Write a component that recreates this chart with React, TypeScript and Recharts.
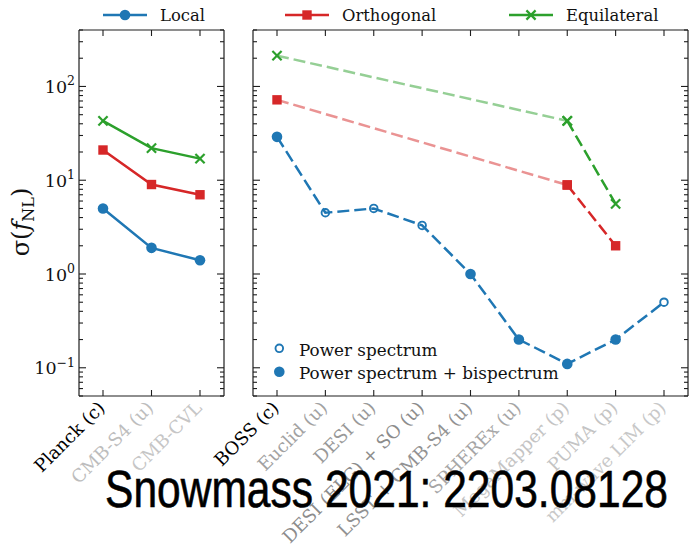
import React from 'react';
import { LineChart, Line, XAxis, YAxis, Legend } from 'recharts';

// ---- data ----
const cmbSurveys = ['Planck (c)', 'CMB-S4 (u)', 'CMB-CVL'];
const cmbLocal = [5.0, 1.9, 1.4];
const cmbOrthogonal = [21, 9.0, 7.0];
const cmbEquilateral = [43, 22, 17];

const lssSurveys = [
  'BOSS (c)',
  'Euclid (u)',
  'DESI (u)',
  'DESI (ELG) + SO (u)',
  'LSST + CMB-S4 (u)',
  'SPHEREx (u)',
  'MegaMapper (p)',
  'PUMA (p)',
  'mm-wave LIM (p)',
];
const lssLocal = [29, 4.5, 5.0, 3.3, 1.0, 0.2, 0.11, 0.2, 0.5];
// true where the forecast uses the power spectrum alone
const lssPowerOnly = [false, true, true, true, false, false, false, false, true];
const lssOrthogonal = [72, null, null, null, null, null, 8.9, 2.0, null];
const lssEquilateral = [213, null, null, null, null, null, 43, 5.6, null];

const yMajorTicks = [0.1, 1, 10, 100];
const yMajorExponents = ['\u22121', '0', '1', '2'];
const yMinorTicks = [
  0.05, 0.06, 0.07, 0.08, 0.09,
  0.2, 0.3, 0.4, 0.5, 0.6, 0.7, 0.8, 0.9,
  2, 3, 4, 5, 6, 7, 8, 9,
  20, 30, 40, 50, 60, 70, 80, 90,
  200, 300, 400,
];
const yDomain = [0.05, 400];

const shapeNames = ['Local', 'Orthogonal', 'Equilateral'];
const estimatorNames = ['Power spectrum', 'Power spectrum + bispectrum'];
const watermark = 'Snowmass 2021: 2203.08128';

// ---- styles ----
const BLUE = '#1f77b4';
const RED = '#d62728';
const GREEN = '#2ca02c';
const FRAME = '#1e1e1e';
const SERIF = '"DejaVu Serif", serif';
const SANS = '"Liberation Sans", Arial, sans-serif';
const DASH = '12 5';
const cmbLabelShade = ['#000000', '#bdbdbd', '#c6c6c6'];
const lssLabelShade = ['#000000', '#a2a2a2', '#999999', '#8c8c8c', '#929292', '#a6a6a6', '#c4c4c4', '#c4c4c4', '#c8c8c8'];

const W = 689;
const H = 558;
const PLOT_TOP = 30;
const PLOT_BOTTOM = 396;

// ---- rows ----
const cmbRows = cmbSurveys.map((name, i) => ({
  name,
  local: cmbLocal[i],
  ortho: cmbOrthogonal[i],
  equil: cmbEquilateral[i],
}));

const proposedStart = lssSurveys.indexOf('MegaMapper (p)');
const lssRows = lssSurveys.map((name, i) => ({
  name,
  local: lssLocal[i],
  powerOnly: lssPowerOnly[i],
  orthoFaded: i <= proposedStart ? lssOrthogonal[i] : null,
  orthoSolid: i >= proposedStart ? lssOrthogonal[i] : null,
  equilFaded: i <= proposedStart ? lssEquilateral[i] : null,
  equilSolid: i >= proposedStart ? lssEquilateral[i] : null,
}));

// ---- markers ----
type Kind = 'circle' | 'open' | 'square' | 'cross';

function Marker({ kind, cx, cy, color }: { kind: Kind; cx: number; cy: number; color: string }) {
  if (kind === 'circle') return <circle cx={cx} cy={cy} r={5.3} fill={color} />;
  if (kind === 'open')
    return <circle cx={cx} cy={cy} r={3.8} fill="none" stroke={color} strokeWidth={1.9} />;
  if (kind === 'square')
    return <rect x={cx - 4.7} y={cy - 4.7} width={9.4} height={9.4} fill={color} />;
  const s = 4.6;
  return (
    <g stroke={color} strokeWidth={2.2}>
      <line x1={cx - s} y1={cy - s} x2={cx + s} y2={cy + s} />
      <line x1={cx - s} y1={cy + s} x2={cx + s} y2={cy - s} />
    </g>
  );
}

const dotOf = (kind: Kind | ((p: any) => Kind), color: string) => (p: any) => {
  if (p.cx == null || p.cy == null || p.value == null || Number.isNaN(p.cy)) return <g key={`d${p.index}`} />;
  const k = typeof kind === 'function' ? kind(p) : kind;
  return (
    <g key={`d${p.index}`}>
      <Marker kind={k} cx={p.cx} cy={p.cy} color={color} />
    </g>
  );
};

// ---- ticks (drawn inward, matplotlib style) ----
const bottomTick = (shades: string[]) => (p: any) => {
  const ax = p.x + 3;
  const ay = p.y + 13;
  return (
    <g key={`b${p.index}`}>
      <line x1={p.x} y1={p.y} x2={p.x} y2={p.y - 6} stroke={FRAME} strokeWidth={1.1} />
      <text
        x={ax}
        y={ay}
        transform={`rotate(-45 ${ax} ${ay})`}
        textAnchor="end"
        fill={shades[p.index]}
        fontFamily={SERIF}
        fontSize={18}
      >
        {p.payload.value}
      </text>
    </g>
  );
};

const topTick = (p: any) => (
  <line key={`t${p.index}`} x1={p.x} y1={p.y} x2={p.x} y2={p.y + 6} stroke={FRAME} strokeWidth={1.1} />
);

const leftTick = (withLabels: boolean) => (p: any) => {
  const v = p.payload.value;
  const mi = yMajorTicks.indexOf(v);
  const major = mi >= 0;
  return (
    <g key={`l${p.index}`}>
      <line x1={p.x} y1={p.y} x2={p.x + (major ? 7 : 4)} y2={p.y} stroke={FRAME} strokeWidth={1.1} />
      {withLabels && major && (
        <text x={p.x - 4} y={p.y + 6.5} textAnchor="end" fontFamily={SERIF} fontSize={17.5} fill="#111">
          10
          <tspan dy={-7.5} fontSize={12.5}>
            {yMajorExponents[mi]}
          </tspan>
        </text>
      )}
    </g>
  );
};

const rightTick = (p: any) => {
  const major = yMajorTicks.indexOf(p.payload.value) >= 0;
  return (
    <line
      key={`r${p.index}`}
      x1={p.x}
      y1={p.y}
      x2={p.x - (major ? 7 : 4)}
      y2={p.y}
      stroke={FRAME}
      strokeWidth={1.1}
    />
  );
};

const frameLine = { stroke: FRAME, strokeWidth: 1.2 };
const allYTicks = [...yMajorTicks, ...yMinorTicks].sort((a, b) => a - b);

// ---- legend ----
const legendEntries: { name: string; color: string; kind: Kind; x: number }[] = [
  { name: shapeNames[0], color: BLUE, kind: 'circle', x: 103 },
  { name: shapeNames[1], color: RED, kind: 'square', x: 285 },
  { name: shapeNames[2], color: GREEN, kind: 'cross', x: 509 },
];

function TopLegend() {
  return (
    <svg width={W} height={30} style={{ display: 'block' }}>
      {legendEntries.map((e) => (
        <g key={e.name}>
          <line x1={e.x} y1={15} x2={e.x + 44} y2={15} stroke={e.color} strokeWidth={2.5} />
          <Marker kind={e.kind} cx={e.x + 22} cy={15} color={e.color} />
          <text x={e.x + 57} y={21} fontFamily={SERIF} fontSize={16.4} fill="#111">
            {e.name}
          </text>
        </g>
      ))}
    </svg>
  );
}

// one panel's frame: bottom/top category axes, left/right log axes (each 1px thick)
function panelAxes(shades: string[], yLabels: boolean) {
  const pad = { left: 24, right: 24 };
  return [
    <XAxis key="xb" dataKey="name" type="category" padding={pad} height={1} tickSize={0} tickMargin={0}
      interval={0} axisLine={frameLine} tickLine={false} tick={bottomTick(shades)} />,
    <XAxis key="xt" xAxisId="top" orientation="top" dataKey="name" type="category" padding={pad} height={1}
      tickSize={0} tickMargin={0} interval={0} axisLine={frameLine} tickLine={false} tick={topTick} />,
    <YAxis key="yl" type="number" scale="log" domain={yDomain} allowDataOverflow ticks={allYTicks} interval={0}
      width={1} tickSize={0} tickMargin={0} axisLine={frameLine} tickLine={false} tick={leftTick(yLabels)} />,
    <YAxis key="yr" yAxisId="r" orientation="right" type="number" scale="log" domain={yDomain} allowDataOverflow
      ticks={allYTicks} interval={0} width={1} tickSize={0} tickMargin={0} axisLine={frameLine}
      tickLine={false} tick={rightTick} />,
  ];
}

export default function App() {
  const layer: React.CSSProperties = { position: 'absolute', left: 0, top: 0 };
  // axes are 1px thick, so margins stop 1px short of the plot edges
  const leftMargin = { top: PLOT_TOP - 1, bottom: H - PLOT_BOTTOM - 1, left: 78, right: W - 224 - 1 };
  const rightMargin = { top: PLOT_TOP - 1, bottom: H - PLOT_BOTTOM - 1, left: 252, right: 0 };

  return (
    <div style={{ position: 'absolute', left: 0, top: 0, width: W, height: H, background: '#fff' }}>
      <div style={layer}>
        <LineChart width={W} height={H} data={cmbRows} margin={leftMargin}>
          {panelAxes(cmbLabelShade, true)}
          <Line dataKey="local" name={shapeNames[0]} stroke={BLUE} strokeWidth={2.5} isAnimationActive={false}
            dot={dotOf('circle', BLUE)} activeDot={false} />
          <Line dataKey="ortho" name={shapeNames[1]} stroke={RED} strokeWidth={2.5} isAnimationActive={false}
            dot={dotOf('square', RED)} activeDot={false} />
          <Line dataKey="equil" name={shapeNames[2]} stroke={GREEN} strokeWidth={2.5} isAnimationActive={false}
            dot={dotOf('cross', GREEN)} activeDot={false} />
          <Legend layout="horizontal" verticalAlign="middle" align="center"
            wrapperStyle={{ position: 'absolute', left: 0, top: 0, width: W, height: 30, margin: 0, padding: 0 }}
            content={() => <TopLegend />} />
        </LineChart>
      </div>
      <div style={layer}>
        <LineChart width={W} height={H} data={lssRows} margin={rightMargin}>
          {panelAxes(lssLabelShade, false)}
          <Line dataKey="local" stroke={BLUE} strokeWidth={2.5} strokeDasharray={DASH} isAnimationActive={false}
            dot={dotOf((p: any) => (p.payload.powerOnly ? 'open' : 'circle'), BLUE)} activeDot={false} />
          <Line dataKey="orthoFaded" stroke={RED} strokeOpacity={0.5} strokeWidth={2.5} strokeDasharray={DASH}
            connectNulls isAnimationActive={false} dot={dotOf('square', RED)} activeDot={false} />
          <Line dataKey="orthoSolid" stroke={RED} strokeWidth={2.5} strokeDasharray={DASH} connectNulls
            isAnimationActive={false} dot={dotOf('square', RED)} activeDot={false} />
          <Line dataKey="equilFaded" stroke={GREEN} strokeOpacity={0.5} strokeWidth={2.5} strokeDasharray={DASH}
            connectNulls isAnimationActive={false} dot={dotOf('cross', GREEN)} activeDot={false} />
          <Line dataKey="equilSolid" stroke={GREEN} strokeWidth={2.5} strokeDasharray={DASH} connectNulls
            isAnimationActive={false} dot={dotOf('cross', GREEN)} activeDot={false} />
        </LineChart>
      </div>
      <svg width={W} height={H} style={{ ...layer, pointerEvents: 'none' }}>
        <text transform="translate(29 222) rotate(-90)" textAnchor="middle" fontFamily={SERIF} fontSize={24} fill="#111">
          σ(<tspan fontStyle="italic">f</tspan>
          <tspan fontSize={16} dy={5}>NL</tspan>
          <tspan dy={-5}>)</tspan>
        </text>
        <Marker kind="open" cx={279.3} cy={348.3} color={BLUE} />
        <text x={299} y={356} fontFamily={SERIF} fontSize={16.8} fill="#111">{estimatorNames[0]}</text>
        <Marker kind="circle" cx={279.3} cy={371.7} color={BLUE} />
        <text x={299} y={378.5} fontFamily={SERIF} fontSize={16.8} fill="#111">{estimatorNames[1]}</text>
        <text x={105} y={507} fontFamily={SANS} fontSize={51} textLength={563} lengthAdjust="spacingAndGlyphs"
          fill="#000" stroke="#000" strokeWidth={0.6}>
          {watermark}
        </text>
      </svg>
    </div>
  );
}
